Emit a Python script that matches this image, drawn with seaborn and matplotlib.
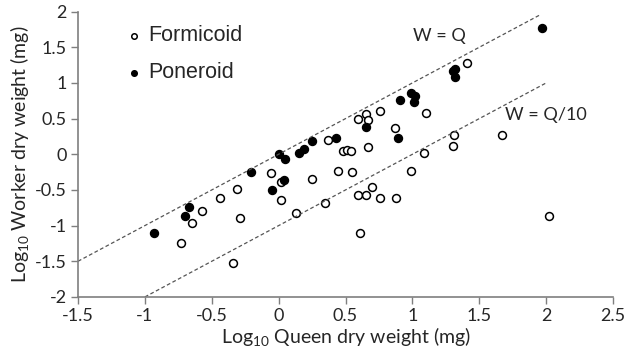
import numpy as np
import pandas as pd
import matplotlib
matplotlib.use("Agg")
import matplotlib.pyplot as plt
import seaborn as sns

# log10 queen / worker dry weight (mg)
formi_q = [-0.73, -0.65, -0.57, -0.44, -0.31, -0.29, -0.34, -0.06, 0.02, 0.02,
           0.13, 0.25, 0.35, 0.37, 0.44, 0.48, 0.51, 0.54, 0.55, 0.59,
           0.59, 0.61, 0.65, 0.65, 0.67, 0.67, 0.70, 0.76, 0.76, 0.87,
           0.88, 0.99, 1.09, 1.10, 1.30, 1.31, 1.41, 1.67, 2.02]
formi_w = [-1.24, -0.97, -0.79, -0.61, -0.48, -0.90, -1.53, -0.26, -0.39, -0.64,
           -0.83, -0.35, -0.69, 0.20, -0.24, 0.05, 0.06, 0.05, -0.25, -0.57,
           0.50, -1.10, -0.57, 0.57, 0.48, 0.10, -0.46, 0.61, -0.61, 0.37,
           -0.61, -0.23, 0.02, 0.58, 0.11, 0.27, 1.28, 0.27, -0.87]

poner_q = [-0.93, -0.70, -0.67, -0.21, -0.05, 0.00, 0.04, 0.05, 0.15, 0.19,
           0.25, 0.43, 0.65, 0.89, 0.91, 0.99, 1.02, 1.01, 1.30, 1.32,
           1.32, 1.97]
poner_w = [-1.10, -0.87, -0.74, -0.25, -0.50, 0.00, -0.36, -0.07, 0.02, 0.07,
           0.19, 0.23, 0.38, 0.23, 0.76, 0.86, 0.82, 0.73, 1.17, 1.20,
           1.08, 1.77]

# reference lines W = Q and W = Q/10
line_eq = np.array([-1.5, 1.95])
line_tenth = np.array([-1.0, 2.0])

formi = pd.DataFrame({'q': formi_q, 'w': formi_w})
poner = pd.DataFrame({'q': poner_q, 'w': poner_w})

sns.set_style('white')
plt.rcParams['font.family'] = ['Lato', 'DejaVu Sans']
plt.rcParams['mathtext.default'] = 'regular'

fig = plt.figure(figsize=(6.34, 3.51), dpi=100)
ax = fig.add_axes([0.123, 0.154, 0.844, 0.813])

ax.plot(line_eq, line_eq, ls=(0, (3, 2)), color='#555555', lw=0.9)
ax.plot(line_tenth, line_tenth - 1, ls=(0, (3, 2)), color='#555555', lw=0.9)

sns.scatterplot(data=formi, x='q', y='w', ax=ax, s=32, marker='o',
                facecolor='white', edgecolor='black', linewidth=1.1, label='Formicoid')
sns.scatterplot(data=poner, x='q', y='w', ax=ax, s=32, marker='o',
                facecolor='black', edgecolor='black', linewidth=1.1, label='Poneroid')

ax.text(1.2, 1.66, 'W = Q', fontsize=13, ha='center', va='center')
ax.text(2.0, 0.55, 'W = Q/10', fontsize=13, ha='center', va='center')

ax.set_xlim(-1.5, 2.5)
ax.set_ylim(-2, 2)
ax.set_xticks(np.arange(-1.5, 2.51, 0.5))
ax.set_yticks(np.arange(-2, 2.01, 0.5))
ax.set_xticklabels(['-1.5', '-1', '-0.5', '0', '0.5', '1', '1.5', '2', '2.5'])
ax.set_yticklabels(['-2', '-1.5', '-1', '-0.5', '0', '0.5', '1', '1.5', '2'])
ax.tick_params(axis='both', direction='out', length=5, width=1, color='#7f7f7f',
               labelsize=13, left=True, bottom=True, pad=3)
ax.set_xlabel('Log$_{10}$ Queen dry weight (mg)', fontsize=14, labelpad=1)
ax.set_ylabel('Log$_{10}$ Worker dry weight (mg)', fontsize=14, labelpad=3)
sns.despine(ax=ax)
for side in ['left', 'bottom']:
    ax.spines[side].set_color('#7f7f7f')
    ax.spines[side].set_linewidth(1.2)

leg = ax.legend(loc='upper left', bbox_to_anchor=(0.044, 1.02), frameon=False,
                markerscale=0.7, handletextpad=0.05, handlelength=1.2,
                labelspacing=0.75, prop={'family': ['Liberation Sans'], 'size': 15.5})

fig.savefig('out.png', dpi=100)
